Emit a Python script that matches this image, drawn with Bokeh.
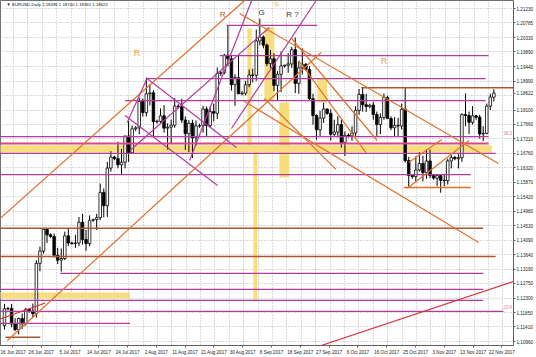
from bokeh.plotting import figure
from bokeh.models import FixedTicker, Range1d, Label
from bokeh.embed import file_html
from bokeh.resources import INLINE
from bokeh.core.properties import value

# ---- daily OHLC (broker has Sunday bars) ----
opens = [1.1145,1.1197,1.1198,1.1150,1.1133,1.1167,1.1151,1.1195,1.1190,1.1182,
         1.1337,1.1375,1.1442,1.1425,1.1420,1.1362,1.1347,1.1352,1.1422,1.1400,
         1.1398,1.1400,1.1464,1.1411,1.1398,1.1470,1.1472,1.1478,1.1556,1.1515,
         1.1631,1.1665,1.1660,1.1641,1.1649,1.1730,1.1678,1.1752,1.1755,1.1836,
         1.1802,1.1860,1.1863,1.1774,1.1775,1.1792,1.1754,1.1757,1.1763,1.1822,
         1.1820,1.1779,1.1737,1.1769,1.1724,1.1761,1.1762,1.1813,1.1762,1.1805,
         1.1800,1.1923,1.1925,1.1979,1.1968,1.1888,1.1910,1.1860,1.1862,1.1888,
         1.1918,1.1917,1.2023,1.2035,1.2010,1.1953,1.1968,1.1886,1.1920,1.1946,
         1.1948,1.1952,1.1996,1.1892,1.1940,1.1951,1.1935,1.1845,1.1793,1.1749,
         1.1785,1.1813,1.1800,1.1735,1.1742,1.1765,1.1710,1.1732,1.1730,1.1739,
         1.1809,1.1858,1.1826,1.1821,1.1825,1.1796,1.1765,1.1787,1.1849,1.1784,
         1.1755,1.1762,1.1761,1.1812,1.1654,1.1608,1.1605,1.1625,1.1645,1.1617,
         1.1653,1.1608,1.1600,1.1608,1.1593,1.1592,1.1653,1.1664,1.1660,1.1663,
         1.1796,1.1793,1.1772,1.1792,1.1788,1.1736,1.1738,1.1822,1.18496]
highs = [1.1212,1.1203,1.1212,1.1168,1.1170,1.1182,1.1200,1.1198,1.1213,1.1347,
         1.1389,1.1445,1.1446,1.1430,1.1429,1.1385,1.1383,1.1435,1.1445,1.1404,
         1.1425,1.1480,1.1490,1.1440,1.1485,1.1475,1.1490,1.1583,1.1568,1.1650,
         1.1683,1.1668,1.1712,1.1690,1.1730,1.1777,1.1762,1.1760,1.1848,1.1845,
         1.1910,1.1890,1.1871,1.1780,1.1815,1.1825,1.1769,1.1780,1.1847,1.1828,
         1.1845,1.1790,1.1779,1.1780,1.1778,1.1768,1.1823,1.1821,1.1820,1.1830,
         1.1941,1.1930,1.1983,1.2070,1.1980,1.1920,1.1980,1.1868,1.1900,1.1935,
         1.1938,1.2058,1.2092,1.2040,1.2015,1.1995,1.1985,1.1930,1.1990,1.1950,
         1.1985,1.2005,1.2033,1.1960,1.2000,1.1955,1.1945,1.1860,1.1797,1.1808,
         1.1833,1.1815,1.1812,1.1780,1.1791,1.1780,1.1744,1.1738,1.1760,1.1822,
         1.1875,1.1880,1.1860,1.1830,1.1835,1.1805,1.1800,1.1861,1.1854,1.1790,
         1.1788,1.1786,1.1830,1.1880,1.1665,1.1612,1.1667,1.1680,1.1669,1.1688,
         1.1688,1.1612,1.1612,1.1612,1.1613,1.1660,1.1671,1.1668,1.1674,1.1800,
         1.1861,1.1805,1.1822,1.1795,1.1795,1.1760,1.1830,1.1860,1.18740]
lows = [1.1133,1.1192,1.1140,1.1128,1.1118,1.1135,1.1145,1.1185,1.1170,1.1170,
        1.1313,1.1367,1.1400,1.1415,1.1355,1.1335,1.1312,1.1347,1.1390,1.1395,
        1.1385,1.1390,1.1395,1.1376,1.1390,1.1465,1.1440,1.1470,1.1479,1.1480,
        1.1620,1.1655,1.1630,1.1612,1.1630,1.1650,1.1675,1.1745,1.1735,1.1790,
        1.1790,1.1824,1.1729,1.1768,1.1768,1.1740,1.1688,1.1705,1.1755,1.1815,
        1.1770,1.1687,1.1680,1.1662,1.1700,1.1755,1.1740,1.1730,1.1755,1.1775,
        1.1782,1.1915,1.1920,1.1945,1.1870,1.1823,1.1860,1.1855,1.1855,1.1880,
        1.1895,1.1900,1.2010,1.2000,1.1945,1.1940,1.1868,1.1838,1.1865,1.1940,
        1.1925,1.1940,1.1862,1.1860,1.1920,1.1930,1.1840,1.1765,1.1718,1.1730,
        1.1770,1.1795,1.1716,1.1727,1.1726,1.1694,1.1668,1.1725,1.1715,1.1730,
        1.1795,1.1805,1.1804,1.1815,1.1780,1.1730,1.1736,1.1780,1.1784,1.1748,
        1.1728,1.1730,1.1750,1.1648,1.1574,1.1598,1.1590,1.1620,1.1590,1.1598,
        1.1600,1.1595,1.1575,1.1555,1.1575,1.1580,1.1630,1.1655,1.1630,1.1650,
        1.1760,1.1736,1.1765,1.1780,1.1722,1.1714,1.1735,1.1810,1.18361]
closes = [1.1197,1.1198,1.1150,1.1133,1.1167,1.1151,1.1195,1.1190,1.1182,1.1337,
          1.1375,1.1442,1.1425,1.1420,1.1362,1.1347,1.1352,1.1422,1.1400,1.1398,
          1.1400,1.1464,1.1411,1.1398,1.1470,1.1472,1.1478,1.1556,1.1515,1.1631,
          1.1665,1.1660,1.1641,1.1649,1.1730,1.1678,1.1752,1.1755,1.1836,1.1802,
          1.1860,1.1863,1.1774,1.1775,1.1792,1.1754,1.1757,1.1763,1.1822,1.1820,
          1.1779,1.1737,1.1769,1.1724,1.1761,1.1762,1.1813,1.1762,1.1805,1.1800,
          1.1923,1.1925,1.1979,1.1968,1.1888,1.1910,1.1860,1.1862,1.1888,1.1918,
          1.1917,1.2023,1.2035,1.2010,1.1953,1.1968,1.1886,1.1920,1.1946,1.1948,
          1.1952,1.1996,1.1892,1.1940,1.1951,1.1935,1.1845,1.1793,1.1749,1.1785,
          1.1813,1.1800,1.1735,1.1742,1.1765,1.1710,1.1732,1.1730,1.1739,1.1809,
          1.1858,1.1826,1.1821,1.1825,1.1796,1.1765,1.1787,1.1849,1.1784,1.1755,
          1.1762,1.1761,1.1812,1.1654,1.1608,1.1605,1.1625,1.1645,1.1617,1.1653,
          1.1608,1.1600,1.1608,1.1593,1.1592,1.1653,1.1664,1.1660,1.1663,1.1796,
          1.1793,1.1772,1.1792,1.1788,1.1736,1.1738,1.1822,1.1850,1.18622]

date_labels = ["16 Jun 2017", "26 Jun 2017", "5 Jul 2017", "14 Jul 2017", "24 Jul 2017",
               "2 Aug 2017", "11 Aug 2017", "21 Aug 2017", "30 Aug 2017", "8 Sep 2017",
               "18 Sep 2017", "27 Sep 2017", "6 Oct 2017", "16 Oct 2017", "25 Oct 2017",
               "3 Nov 2017", "13 Nov 2017", "22 Nov 2017"]

price_ticks = [1.21230, 1.20785, 1.20330, 1.19890, 1.19440, 1.18990, 1.18100, 1.17660,
               1.17210, 1.16760, 1.16320, 1.15870, 1.15420, 1.14980, 1.14530, 1.14090,
               1.13640, 1.13190, 1.12750, 1.12300, 1.11850, 1.11410, 1.10960]
grid_prices = price_ticks + [1.18545]

title_text = "\u25bc EURUSD,Daily  1.18496 1.18740 1.18361 1.18622"
last_price = 1.18622

# ---- drawn objects (bar index, price) ----
PURPLE = "#b23c9e"
PINK = "#d8458a"
BROWN = "#a8582e"
ORANGE = "#e0702c"
YELLOW = "#f6de7e"
RED = "#d8303a"

level_price = [1.2071, 1.1978, 1.1907, 1.1879, 1.1839, 1.1728, 1.1707, 1.1676, 1.1611, 1.1571,
               1.1445, 1.1358, 1.1306, 1.1257, 1.1223, 1.1189, 1.1152, 1.1109]
level_start = [62.6, 60.7, 40.2, 100.6, 34.0, -2, -2, -2, -2, 112.6,
               -2, -2, 15.7, -2, -2, -2, -2, 0.3]
level_end = [88.2, 136.5, 135.7, 150, 135.7, 136.5, 136.5, 138.5, 131.5, 131.5,
             135.0, 138.5, 135.0, 135.0, 135.0, 140.7, 35.4, 10.1]
level_color = [PURPLE, PURPLE, PURPLE, BROWN, PURPLE, PURPLE, PINK, PURPLE, PURPLE, ORANGE,
               BROWN, BROWN, PURPLE, PURPLE, PURPLE, PURPLE, PURPLE, BROWN]
level_width = [1.2, 1.2, 1.2, 1.5, 1.2, 1.2, 2.0, 1.2, 1.2, 1.5,
               1.5, 1.5, 1.2, 1.2, 1.2, 1.2, 1.2, 1.5]

zone_left = [-2, -2, 68.5, 70.2, 73.3, 77.5, 88.2]
zone_right = [137.4, 35.4, 69.7, 71.3, 76.1, 80.3, 91.0]
zone_bottom = [1.1679, 1.1229, 1.16986, 1.12226, 1.18393, 1.16019, 1.18331]
zone_top = [1.1701, 1.1247, 1.20613, 1.16986, 1.20644, 1.18331, 1.19072]

trend_x0 = [-1.2, 0.84, 34.6, 40.2, 34.0, 52.2, 64.0, 35.4, 66.3, 67.7, 81.0, 83.0, 73.3, 113.5, 114.0, -1.2, 89.3]
trend_y0 = [1.1476, 1.10993, 1.17715, 1.19072, 1.1793, 1.16543, 1.1753, 1.16851, 1.21076, 1.18362, 1.20305, 1.19620, 1.18454, 1.15680, 1.16481, 1.11655, 1.10838]
trend_x1 = [67.7, 89.3, 40.2, 65.4, 60.1, 69.7, 87.9, 74.7, 139.3, 133.7, 105.1, 102.0, 93.5, 131.0, 123.3, 11.5, 143.5]
trend_y1 = [1.21477, 1.19873, 1.19072, 1.16944, 1.15772, 1.21477, 1.21477, 1.20644, 1.16451, 1.14014, 1.17160, 1.16780, 1.16270, 1.17160, 1.17190, 1.12150, 1.12812]
trend_color = [ORANGE, ORANGE, PURPLE, PURPLE, PURPLE, PURPLE, PURPLE, PURPLE, ORANGE, ORANGE, ORANGE, ORANGE, ORANGE, ORANGE, ORANGE, RED, RED]

notes = ["R", "R", "G", "R ?", "G", "R"]
note_x = [37.4, 61.5, 72.5, 81.2, 76.7, 107.0]
note_y = [1.19873, 1.21045, 1.21107, 1.21045, 1.21384, 1.19596]
note_color = ["#eaa23c", "#a0552a", "#333333", "#4a4030", "#eaa23c", "#eaa23c"]
note_size = ["9px", "8px", "8px", "8px", "6px", "9px"]

fib_text = ["38.2", "23.6"]
fib_price = [1.17406, 1.12010]

FONT = "Liberation Sans"
X0, X1 = -1.124, 143.54
Y0, Y1 = 1.10838, 1.21477

p = figure(width=536, height=357, x_range=Range1d(X0, X1),
           y_range=Range1d(Y0, Y1), y_axis_location="right",
           toolbar_location=None, output_backend="svg",
           min_border_left=0, min_border_top=0, min_border_right=0, min_border_bottom=0)
p.background_fill_color = "white"
p.border_fill_color = "white"
p.outline_line_color = "#707070"

# axes (the current price is shown on the price scale as well)
axis_prices = price_ticks + [last_price]
p.yaxis.ticker = FixedTicker(ticks=axis_prices)
p.yaxis.major_label_overrides = {t: f"{t:.5f}" for t in axis_prices}
date_ticks = [2.25 + 8.118 * k for k in range(len(date_labels))]
p.xaxis.ticker = FixedTicker(ticks=date_ticks)
p.xaxis.major_label_overrides = {t: s for t, s in zip(date_ticks, date_labels)}
for ax in (p.xaxis, p.yaxis):
    ax.major_label_text_font = FONT
    ax.major_label_text_font_size = "4.6px"
    ax.major_label_text_color = "#222222"
    ax.axis_line_color = "#606060"
    ax.major_tick_line_color = "#606060"
    ax.major_tick_in = 0
    ax.major_tick_out = 2
    ax.minor_tick_line_color = None
    ax.major_label_standoff = 1
p.xaxis.major_label_standoff = 2

p.xgrid.ticker = FixedTicker(ticks=[2.53 + 4.059 * k for k in range(36)])
p.ygrid.ticker = FixedTicker(ticks=grid_prices)
for g in (p.xgrid, p.ygrid):
    g.grid_line_color = "#b4b4b4"
    g.grid_line_dash = "1 2"
    g.grid_line_width = 1

# zones
p.quad(left=zone_left, right=zone_right, bottom=zone_bottom, top=zone_top,
       fill_color=YELLOW, line_color=None)

# candles
idx = list(range(len(closes)))
p.segment(x0=idx, y0=lows, x1=idx, y1=highs, line_color="black", line_width=1)
up = [i for i in idx if closes[i] >= opens[i]]
dn = [i for i in idx if closes[i] < opens[i]]
p.vbar(x=up, width=0.72, top=[closes[i] for i in up], bottom=[opens[i] for i in up],
       fill_color="white", line_color="black", line_width=0.8)
p.vbar(x=dn, width=0.72, top=[opens[i] for i in dn], bottom=[closes[i] for i in dn],
       fill_color="black", line_color="black", line_width=0.8)

# horizontal levels
p.segment(x0=level_start, y0=level_price, x1=level_end, y1=level_price,
          line_color=level_color, line_width=level_width)
# trend lines
p.segment(x0=trend_x0, y0=trend_y0, x1=trend_x1, y1=trend_y1,
          line_color=trend_color, line_width=1.2)

# notes
p.text(x=note_x, y=note_y, text=notes, text_color=note_color, text_font_size=note_size,
       text_font=value(FONT), text_align="center", text_baseline="middle")
p.text(x=[0.6], y=[1.21440], text=[title_text], text_color="#111111",
       text_font_size="4.3px", text_font=value(FONT), text_align="left", text_baseline="top")

for t, fp in zip(fib_text, fib_price):
    p.add_layout(Label(x=141.9, y=fp, text=t, text_font=FONT, text_font_size="4.5px",
                       text_color="#e07aa6", text_align="center", text_baseline="middle"))

open("out.html", "w").write(file_html(p, INLINE))
